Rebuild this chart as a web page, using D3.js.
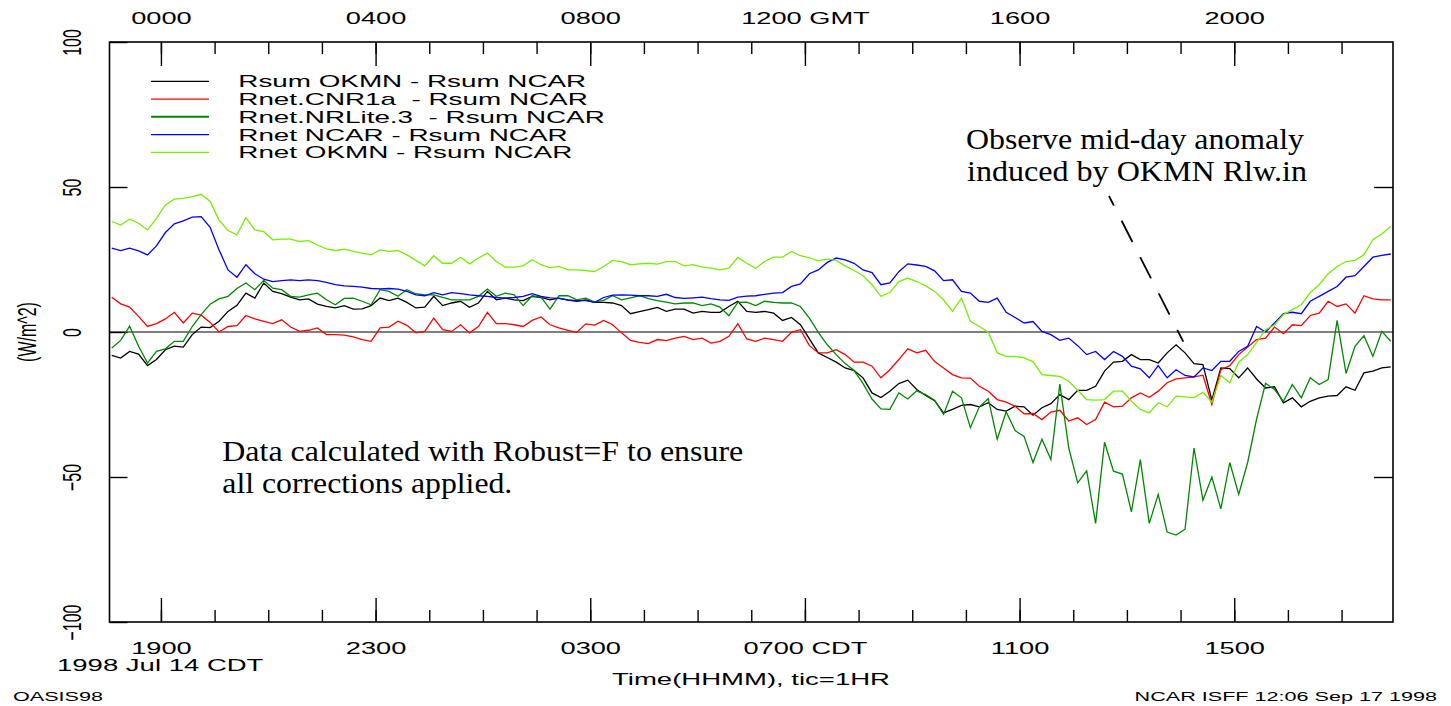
<!DOCTYPE html>
<html>
<head>
<meta charset="utf-8">
<script src="https://cdn.jsdelivr.net/npm/d3@7"></script>
<style>
body { margin: 0; background: #fff; }
svg text { font-family: "Liberation Sans", Arial, Helvetica, sans-serif; fill: #000; }
.serif { font-family: "Liberation Serif", "Times New Roman", serif; }
</style>
</head>
<body>
<svg id="chart" width="1451" height="706"></svg>
<script>
// series names, colours (legend order)
var seriesNames = ["Rsum OKMN - Rsum NCAR", "Rnet.CNR1a  - Rsum NCAR", "Rnet.NRLite.3  - Rsum NCAR",
    "Rnet NCAR - Rsum NCAR", "Rnet OKMN - Rsum NCAR"];
var seriesColors = ["#000000", "#ff0000", "#008800", "#0000ff", "#77ee00"];

// 10 minute values, 18:05 CDT Jul 14 .. 17:55 CDT Jul 15  (W/m^2)
var rsumOKMN = [-8.1, -9, -6.7, -7.6, -11.6, -9.5, -6.1, -4.9, -5.2, -0.9, 1.7, 1.5, 3.7, 7.1, 9.2, 13.4,
    11.7, 16.9, 14, 13.2, 12, 11.1, 11.4, 9.6, 8.8, 8.3, 9.1, 7.9, 8, 9.1, 11.7, 10.8, 11.7, 10.2, 8.3, 8.6,
    12.3, 9.1, 10, 10.6, 8.5, 10, 14, 11.1, 11.7, 11.1, 10.8, 12.3,
    11.9, 11.1, 11.7, 11, 10.6, 11.1, 10.2, 10.2, 10, 9.1, 6.3, 7, 7.7, 8.5, 7.1, 7.9, 7.9, 6.5, 7.1, 6.8,
    6.8, 8.8, 10.6, 7.1, 6.8, 7.1, 6.5, 4, 5, 2.5, -2.4, -7.2, -8.8, -10.4, -12.4, -13.3, -15.8, -21, -22.6,
    -20.4, -17.8, -16.6, -19.8, -21.9, -23.7, -27.9, -26.7, -25.3,
    -25, -25.8, -24.4, -26.7, -27.3, -25.6, -25.8, -28.7, -26.1, -24.7, -21.6, -23.3, -20.1, -20.1, -18.7,
    -13.5, -10.4, -10.1, -7.8, -9.5, -9.5, -10.7, -7.2, -4.4, -7.2, -10.9, -11.2, -23.5, -12.4, -12.6, -15.8,
    -12.4, -16.2, -19.3, -18.9, -24.4, -22.7, -25.8, -23.9, -22.7, -22.1, -21.9, -18.9, -20.1, -14.1, -13.5,
    -12.4, -12];

var rnetCNR1a = [12, 9.7, 8.6, 5.4, 1.9, 2.9, 4.5, 6.8, 3.1, 6.5, 5.8, 3.3, 0, 1.9, 2.2, 5.7, 4.5, 3.7, 2.9,
    4.2, 1.7, 0.2, 0.6, 1.4, -0.9, -0.9, -1.1, -1.7, -2.6, -3.2, 1.4, 1.7, 3.7, 2.3, -0.3, 0.2, 4.8, 0.8, 0.2,
    2.5, -0.3, 1.9, 6.8, 2.9, 2.9, 2.5, 1.9, 4,
    5.2, 2.5, 1.4, 0.6, -0.1, 2.8, 2.4, 4, 2.5, -0.3, -2.9, -3.6, -4, -2.6, -3, -2.1, -1.5, -2.6, -2.1, -3.8,
    -3.2, -1.5, 2.9, -2.4, -3.2, -2.1, -2.6, -3.2, -0.1, 0.8, -4.7, -7.2, -7.2, -6.1, -7.8, -10.4, -10.4,
    -11.8, -15.8, -13, -9.5, -5.8, -7.2, -6.3, -10.2, -12.4, -14.7, -15.8,
    -15.9, -18.7, -20.4, -23.3, -24.2, -25.6, -28.2, -28.1, -30.2, -27.6, -27, -30.7, -29.6, -31.9, -30.2,
    -24.2, -25.8, -25.6, -22.7, -21, -22.5, -20.4, -17.5, -16.2, -15.8, -15.5, -14.9, -25, -13, -11.6, -7.8,
    -5.2, -2.6, -2.1, 1.7, -0.6, 2.5, 2.2, 5.7, 6.5, 10.6, 8.8, 9.7, 6.5, 12.5, 11.4, 11.1, 11.1];

var rnetNRLite = [-5.5, -2.9, 2, -4.9, -10.7, -6.7, -5.8, -3.2, -3.2, 1.9, 6, 9.6, 11.4, 12.3, 15, 16.9, 14.6,
    17.8, 15.1, 14.6, 12.3, 12, 12.8, 13.4, 11.1, 9.4, 11.6, 11.7, 10.6, 9.4, 14.6, 14, 12.3, 14.6, 13.2, 12.8,
    12.8, 11.9, 11.1, 11.1, 11.1, 12.3, 14.8, 12.3, 13.4, 12.8, 9.1, 12.5,
    12, 7.9, 12.5, 12.5, 11.1, 11.7, 10.3, 10.9, 12.5, 11.1, 11.8, 12.5, 11.5, 10.8, 10.3, 9.7, 10, 10, 9.1,
    9.7, 8.6, 5.6, 10.2, 10.3, 9.1, 10.6, 10.2, 10, 10, 8.8, 4.8, -0.1, -4.4, -7.8, -10.9, -13.3, -17.8, -23.1,
    -26.5, -26.7, -21, -23.1, -20.3, -21.6, -23.5, -28.4, -20.4, -22.7,
    -33, -25.8, -23, -37, -27.5, -34, -36, -45, -37, -44, -18, -40, -52, -47.9, -66, -38, -48, -49, -62, -44,
    -66, -56, -69, -70, -68, -40, -58, -50, -61, -45, -56, -45, -30, -17.7, -19.8, -23.9, -18.1, -22.7, -15.8,
    -18.1, -16.4, 4, -14.3, -4.9, -1.3, -8.4, 0.2, -3.2];

var rnetNCAR = [28.9, 28.1, 28.9, 28, 26.6, 29.7, 34.3, 37.3, 38.3, 39.6, 39.8, 36.1, 28.3, 21.4, 18.9, 23.2,
    20.1, 18.2, 17.4, 17.7, 18, 17.7, 18, 17.7, 17.1, 16.3, 15.9, 15.7, 15.5, 15, 14.9, 15, 14.8, 14, 12.8,
    12.5, 13.6, 12.8, 13.6, 13.2, 12.8, 12.5, 12.3, 11.9, 11.7, 11.9, 12.3, 13.2,
    12.3, 11.8, 11.6, 11.1, 10.8, 10.8, 10.2, 11.9, 12.7, 12.8, 12.7, 12.5, 12.5, 12.3, 13, 11.9, 11.6, 11.8,
    12, 11.5, 11.1, 10.9, 12, 12.4, 12.5, 13, 13.4, 13.6, 15.7, 16.6, 20.1, 21.4, 24, 25.5, 24.9, 23.7, 21.4,
    20.5, 16.3, 16.9, 20.8, 23.5, 23.1, 22.6, 21.1, 17.7, 18, 14,
    13.4, 10.6, 10.2, 11.7, 6.8, 5, 3.1, 3.6, 0.2, -0.9, -2.9, -2.1, -4.7, -7.8, -6.7, -9.5, -6.7, -8.4, -11.8,
    -12.7, -15.8, -11.6, -15.8, -13, -15, -15.5, -12.4, -13.3, -10.1, -10.1, -6.7, -4.9, 1.9, 0, 3.1, 6.3, 6.8,
    6.3, 10.6, 12.3, 14, 15.7, 18.9, 19.4, 22.6, 25.8, 26.4, 26.9];

var rnetOKMN = [38.1, 36.9, 38.9, 37.5, 35.2, 39.2, 43.8, 45.8, 46.1, 46.7, 47.5, 45, 38.6, 35, 33.5, 39.4,
    35.2, 34.6, 31.8, 32, 32, 31.2, 31.5, 30, 28.7, 28.1, 28.6, 27.8, 27.2, 26.6, 28.3, 27.8, 28.1, 26.6, 24.7,
    22.8, 26.3, 23.7, 23.7, 25.8, 23.5, 25.5, 27.2, 24.3, 22.4, 22.4, 22.8, 24.9,
    23.2, 22.2, 22.6, 21.4, 21.4, 21.2, 20.8, 22.6, 24.7, 24.3, 23.2, 23.5, 23.7, 23.4, 24.3, 24.3, 22.8, 23.2,
    22.4, 22, 21.4, 22, 25.7, 23.7, 22, 24.3, 25.8, 25.8, 27.8, 26.3, 25.6, 24.5, 25.1, 24.7, 22.8, 21.2, 19.4,
    16.3, 12.3, 13.6, 17.4, 18.6, 17.4, 15.9, 14, 11.1, 7.1, 11.7,
    3.7, 1.9, -0.1, -7.2, -8.4, -8.4, -8.9, -10.2, -14.7, -15, -15.3, -17, -20.1, -23.3, -23.5, -23.3, -20.4,
    -20.4, -23.9, -26.7, -27.9, -24.4, -25.8, -22.1, -22.4, -22.6, -20.8, -24.2, -15, -17.5, -10.4, -7.8, -3.6,
    0.8, 2.4, 6, 7.7, 9.4, 13.6, 16.3, 20.1, 22.6, 24.3, 24.7, 26.6, 31.8, 33.8, 36.4];

var allSeries = [rsumOKMN, rnetCNR1a, rnetNRLite, rnetNCAR, rnetOKMN];

// tick labels
var bottomLabels = ["1900", "2300", "0300", "0700 CDT", "1100", "1500"];
var topLabels = ["0000", "0400", "0800", "1200 GMT", "1600", "2000"];
var yTickValues = [100, 50, 0, -50, -100];

var svg = d3.select("#chart");
var plotLeft = 109.5, plotRight = 1393, plotTop = 42, plotBottom = 622;
var SX = 1.6;   // the original plot has wide, stretched lettering

var x = d3.scaleTime()
    .domain([new Date(1998, 6, 14, 18, 2, 30), new Date(1998, 6, 15, 17, 57, 30)])
    .range([plotLeft, plotRight]);
var y = d3.scaleLinear().domain([-100, 100]).range([plotBottom, plotTop]);

var times = d3.range(rsumOKMN.length).map(function(i) {
    return new Date(1998, 6, 14, 18, 5 + 10 * i);
});
var hourTicks = d3.timeHour.range(new Date(1998, 6, 14, 19), new Date(1998, 6, 15, 17, 30));
var majorTicks = hourTicks.filter(function(d, i) { return i % 4 == 0; });

function styleAxis(g) {
    g.select(".domain").remove();
    g.attr("font-family", null).attr("font-size", 17);
    g.selectAll("line").attr("stroke", "#000").attr("stroke-width", 1.4);
}

// top (GMT) axis
svg.append("g").attr("transform", "translate(0," + plotTop + ")")
    .call(d3.axisTop(x).tickValues(hourTicks).tickSize(-12).tickFormat(""))
    .call(styleAxis);
svg.append("g").attr("transform", "translate(0," + plotTop + ")")
    .call(d3.axisTop(x).tickValues(majorTicks).tickSize(-24).tickPadding(17.7)
        .tickFormat(function(d, i) { return topLabels[i]; }))
    .call(styleAxis)
    .selectAll("text").attr("transform", "scale(" + SX + ",1)");

// bottom (CDT) axis
svg.append("g").attr("transform", "translate(0," + plotBottom + ")")
    .call(d3.axisBottom(x).tickValues(hourTicks).tickSize(-12).tickFormat(""))
    .call(styleAxis);
svg.append("g").attr("transform", "translate(0," + plotBottom + ")")
    .call(d3.axisBottom(x).tickValues(majorTicks).tickSize(-24)
        .tickFormat(function(d, i) { return bottomLabels[i]; }))
    .call(styleAxis)
    .selectAll("text").attr("y", 32).attr("dy", 0)
    .attr("transform", "scale(" + SX + ",1)");

// left axis with rotated labels
svg.append("g").attr("transform", "translate(" + plotLeft + ",0)")
    .call(d3.axisLeft(y).tickValues(yTickValues).tickSize(-18))
    .call(styleAxis)
    .selectAll("text")
    .attr("x", 0).attr("dy", 0).attr("font-size", 16)
    .attr("text-anchor", "middle")
    .attr("transform", "translate(" + (81 - plotLeft) + ",0) scale(" + SX + ",1) rotate(-90)");

// right axis ticks
svg.append("g").attr("transform", "translate(" + plotRight + ",0)")
    .call(d3.axisRight(y).tickValues([-50, 50]).tickSize(-19).tickFormat(""))
    .call(styleAxis);

// zero line
svg.append("line")
    .attr("x1", plotLeft).attr("x2", plotRight)
    .attr("y1", y(0)).attr("y2", y(0))
    .attr("stroke", "#000").attr("stroke-width", 1.2);

// data lines
var line = d3.line()
    .x(function(d, i) { return x(times[i]); })
    .y(function(d) { return y(d); });

svg.selectAll(".series")
    .data(allSeries)
    .enter().append("path")
    .attr("class", "series")
    .attr("d", line)
    .attr("fill", "none")
    .attr("stroke", function(d, i) { return seriesColors[i]; })
    .attr("stroke-width", 1.3);

// frame
svg.append("rect")
    .attr("x", plotLeft).attr("y", plotTop)
    .attr("width", plotRight - plotLeft).attr("height", plotBottom - plotTop)
    .attr("fill", "none").attr("stroke", "#000").attr("stroke-width", 1.6);

// legend
var legend = svg.append("g");
seriesNames.forEach(function(name, i) {
    var ly = 81.3 + i * 17.75;
    legend.append("line")
        .attr("x1", 151).attr("x2", 209).attr("y1", ly).attr("y2", ly)
        .attr("stroke", seriesColors[i]).attr("stroke-width", i == 2 ? 2 : 1.3);
    legend.append("text")
        .attr("transform", "translate(238.3," + (ly + 6) + ") scale(" + SX + ",1)")
        .attr("font-size", 17.4)
        .style("white-space", "pre")
        .text(name);
});

// plain texts
function stext(str, px, py, size, anchor) {
    return svg.append("text")
        .attr("transform", "translate(" + px + "," + py + ") scale(" + SX + ",1)")
        .attr("font-size", size)
        .attr("text-anchor", anchor || "start")
        .text(str);
}
stext("1998 Jul 14 CDT", 57, 670.7, 17.2);
stext("Time(HHMM), tic=1HR", 751, 685, 17.2, "middle");
stext("OASIS98", 13, 701, 13.5);
stext("NCAR ISFF 12:06 Sep 17 1998", 1437, 701, 13.5, "end");

svg.append("text")
    .attr("transform", "translate(36,332) scale(" + SX + ",1) rotate(-90)")
    .attr("font-size", 16)
    .attr("text-anchor", "middle")
    .text("(W/m^2)");

// annotations
function note(str, px, py, len) {
    svg.append("text")
        .attr("class", "serif")
        .attr("x", px).attr("y", py)
        .attr("font-size", 30)
        .attr("textLength", len).attr("lengthAdjust", "spacingAndGlyphs")
        .text(str);
}
note("Observe mid-day anomaly", 966, 148.5, 338);
note("induced by OKMN Rlw.in", 967, 180.7, 340);
note("Data calculated with Robust=F to ensure", 222.3, 460.7, 521);
note("all corrections applied.", 222.3, 492.7, 290);

svg.append("line")
    .attr("x1", 1109).attr("y1", 196)
    .attr("x2", 1183.3).attr("y2", 341.7)
    .attr("stroke", "#000").attr("stroke-width", 1.8)
    .attr("stroke-dasharray", "23.8,17")
    .attr("stroke-dashoffset", 13);
</script>
</body>
</html>
